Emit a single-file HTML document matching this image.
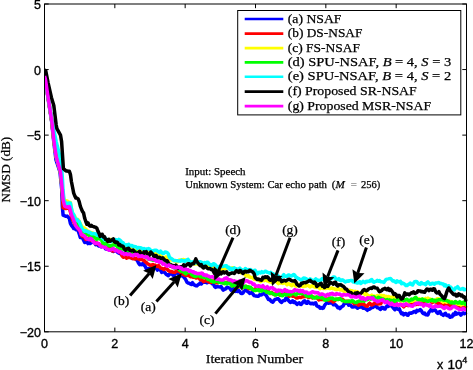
<!DOCTYPE html>
<html><head><meta charset="utf-8"><title>NMSD</title>
<style>html,body{margin:0;padding:0;background:#fff;}body{width:473px;height:370px;overflow:hidden;position:relative;font-family:"Liberation Sans",sans-serif;}</style>
</head><body>
<svg width="473" height="370" viewBox="0 0 473 370" style="position:absolute;left:0;top:0;will-change:transform">
<rect x="0" y="0" width="473" height="370" fill="#fff"/>
<defs><clipPath id="cp"><rect x="44.5" y="4.0" width="423.0" height="327.8"/></clipPath></defs>
<g clip-path="url(#cp)">
<polyline points="44.5,76.0 45.2,79.0 48.0,98.0 51.7,122.0 53.8,142.0 56.0,160.0 60.0,172.0 61.8,190.0 62.3,206.2 63.1,215.1 66.0,216.3 67.1,216.1 68.2,217.2 69.3,218.3 70.4,223.4 71.5,225.5 72.6,226.7 73.7,228.6 74.8,228.3 75.9,229.8 77.0,229.8 78.1,230.7 79.2,233.8 80.3,237.5 81.4,237.2 82.5,237.9 83.6,240.1 84.7,242.4 85.8,242.3 86.9,241.8 88.0,243.6 89.1,241.7 90.2,243.5 91.3,242.7 92.4,242.0 93.5,241.7 94.6,242.4 95.7,244.7 96.8,244.0 97.9,245.1 99.0,246.1 100.1,246.0 101.2,246.9 102.3,246.1 103.4,246.0 104.5,246.7 105.6,248.9 106.7,249.2 107.8,249.0 108.9,249.8 110.0,249.9 111.1,249.5 112.2,251.0 113.3,251.5 114.4,250.4 115.5,251.0 116.6,251.2 117.7,252.4 118.8,253.1 119.9,252.3 121.0,254.3 122.1,252.9 123.2,253.3 124.3,254.8 125.4,253.8 126.5,254.6 127.6,253.7 128.7,255.5 129.8,256.8 130.9,257.1 132.0,258.4 133.1,257.4 134.2,258.3 135.3,258.6 136.4,259.8 137.5,260.8 138.6,263.2 139.7,264.6 140.8,264.1 141.9,264.7 143.0,263.4 144.1,265.0 145.2,266.3 146.3,268.7 147.4,269.9 148.5,268.5 149.6,268.3 150.7,269.3 151.8,267.8 152.9,268.7 154.0,268.3 155.1,268.0 156.2,267.8 157.3,270.1 158.4,269.4 159.5,269.5 160.6,270.3 161.7,272.4 162.8,271.2 163.9,271.9 165.0,272.8 166.1,274.3 167.2,275.0 168.3,275.6 169.4,274.1 170.5,273.8 171.6,273.4 172.7,274.9 173.8,275.8 174.9,273.8 176.0,272.8 177.1,273.1 178.2,273.5 179.3,274.7 180.4,276.0 181.5,275.8 182.6,275.5 183.7,277.1 184.8,278.2 185.9,279.9 187.0,282.3 188.1,283.0 189.2,283.2 190.3,283.9 191.4,284.5 192.5,282.7 193.6,284.5 194.7,285.1 195.8,285.7 196.9,285.9 198.0,284.7 199.1,284.1 200.2,282.9 201.3,284.0 202.4,282.7 203.5,282.1 204.6,282.2 205.7,282.1 206.8,282.8 207.9,282.3 209.0,282.0 210.1,282.4 211.2,282.5 212.3,283.7 213.4,283.6 214.5,286.5 215.6,287.4 216.7,286.6 217.8,286.7 218.9,286.9 220.0,287.1 221.1,286.5 222.2,288.6 223.3,290.1 224.4,289.3 225.5,289.0 226.6,287.6 227.7,287.2 228.8,287.9 229.9,288.1 231.0,290.1 232.1,289.2 233.2,288.4 234.3,291.2 235.4,291.4 236.5,290.4 237.6,291.4 238.7,290.4 239.8,291.7 240.9,293.3 242.0,293.6 243.1,292.9 244.2,291.1 245.3,290.3 246.4,289.5 247.5,291.5 248.6,292.1 249.7,293.4 250.8,292.9 251.9,292.6 253.0,294.2 254.1,295.6 255.2,295.9 256.3,296.0 257.4,296.2 258.5,296.2 259.6,294.7 260.7,295.0 261.8,294.8 262.9,293.8 264.0,293.5 265.1,294.5 266.2,295.3 267.3,297.3 268.4,299.4 269.5,299.2 270.6,300.6 271.7,301.6 272.8,302.1 273.9,300.6 275.0,299.5 276.1,299.1 277.2,298.8 278.3,298.8 279.4,300.2 280.5,301.8 281.6,302.4 282.7,301.0 283.8,300.6 284.9,300.5 286.0,298.0 287.1,298.2 288.2,300.1 289.3,301.5 290.4,302.5 291.5,301.9 292.6,300.8 293.7,302.4 294.8,301.8 295.9,303.2 297.0,304.4 298.1,303.3 299.2,302.8 300.3,304.3 301.4,304.4 302.5,302.7 303.6,301.4 304.7,300.8 305.8,302.8 306.9,303.3 308.0,301.4 309.1,302.5 310.2,303.5 311.3,303.7 312.4,303.2 313.5,303.9 314.6,303.2 315.7,302.8 316.8,305.8 317.9,306.5 319.0,306.6 320.1,308.2 321.2,307.6 322.3,308.4 323.4,308.0 324.5,305.5 325.6,304.0 326.7,303.1 327.8,302.1 328.9,303.2 330.0,302.8 331.1,303.1 332.2,302.5 333.3,304.7 334.4,304.4 335.5,304.9 336.6,305.8 337.7,307.6 338.8,307.2 339.9,308.6 341.0,307.3 342.1,306.4 343.2,305.7 344.3,303.4 345.4,303.4 346.5,303.1 347.6,302.7 348.7,305.2 349.8,304.7 350.9,305.6 352.0,306.9 353.1,307.0 354.2,306.4 355.3,306.8 356.4,307.2 357.5,308.2 358.6,306.6 359.7,307.3 360.8,306.7 361.9,306.6 363.0,308.2 364.1,308.2 365.2,308.4 366.3,309.3 367.4,310.3 368.5,309.3 369.6,309.2 370.7,308.3 371.8,307.6 372.9,307.5 374.0,306.5 375.1,305.9 376.2,306.0 377.3,307.7 378.4,307.9 379.5,308.7 380.6,309.4 381.7,307.5 382.8,307.5 383.9,308.8 385.0,309.1 386.1,307.0 387.2,305.9 388.3,306.4 389.4,305.6 390.5,305.8 391.6,305.4 392.7,307.2 393.8,308.6 394.9,309.7 396.0,307.9 397.1,308.9 398.2,309.3 399.3,308.8 400.4,311.5 401.5,313.7 402.6,313.0 403.7,314.8 404.8,313.7 405.9,313.5 407.0,315.0 408.1,315.2 409.2,313.2 410.3,313.0 411.4,313.2 412.5,312.7 413.6,311.7 414.7,311.4 415.8,312.3 416.9,310.4 418.0,310.9 419.1,310.6 420.2,309.5 421.3,310.7 422.4,312.6 423.5,313.6 424.6,313.0 425.7,314.7 426.8,314.7 427.9,315.0 429.0,312.1 430.1,310.9 431.2,309.3 432.3,310.9 433.4,310.4 434.5,309.8 435.6,310.5 436.7,312.5 437.8,313.4 438.9,312.1 440.0,311.5 441.1,314.0 442.2,314.4 443.3,315.3 444.4,314.0 445.5,313.4 446.6,315.4 447.7,315.7 448.8,315.0 449.9,317.3 451.0,316.8 452.1,316.7 453.2,314.1 454.3,314.9 455.4,312.4 456.5,314.1 457.6,313.7 458.7,313.2 459.8,313.7 460.9,315.2 462.0,313.9 463.1,312.9 464.2,313.7 465.3,313.3 466.3,314.5" fill="none" stroke="#0000ff" stroke-width="3.5" stroke-linejoin="round" stroke-linecap="butt"/>
<polyline points="44.5,76.0 45.4,79.0 48.1,97.4 51.9,122.0 54.0,141.6 56.2,156.8 60.5,171.9 62.3,190.0 62.6,200.0 63.1,207.8 66.0,208.6 67.1,208.4 68.2,208.0 69.3,208.0 70.4,211.8 71.5,216.1 72.6,219.8 73.7,221.7 74.8,224.2 75.9,225.3 77.0,227.1 78.1,228.1 79.2,230.0 80.3,231.4 81.4,234.9 82.5,236.4 83.6,236.4 84.7,237.4 85.8,239.4 86.9,238.1 88.0,239.1 89.1,238.7 90.2,238.8 91.3,240.4 92.4,240.6 93.5,241.3 94.6,242.3 95.7,243.6 96.8,242.9 97.9,243.9 99.0,244.4 100.1,245.0 101.2,245.1 102.3,245.4 103.4,245.2 104.5,245.4 105.6,245.7 106.7,247.7 107.8,247.8 108.9,247.9 110.0,248.0 111.1,249.8 112.2,250.9 113.3,251.1 114.4,250.3 115.5,249.9 116.6,250.0 117.7,250.5 118.8,250.9 119.9,252.4 121.0,253.2 122.1,255.9 123.2,257.2 124.3,257.0 125.4,256.4 126.5,258.1 127.6,257.5 128.7,257.6 129.8,257.0 130.9,257.6 132.0,258.2 133.1,258.7 134.2,258.4 135.3,259.0 136.4,258.3 137.5,258.7 138.6,258.7 139.7,259.6 140.8,259.3 141.9,259.3 143.0,260.1 144.1,260.5 145.2,261.8 146.3,262.5 147.4,263.6 148.5,264.2 149.6,264.8 150.7,265.6 151.8,265.0 152.9,264.6 154.0,266.2 155.1,265.1 156.2,266.0 157.3,266.5 158.4,265.4 159.5,266.9 160.6,268.1 161.7,268.2 162.8,268.8 163.9,269.5 165.0,268.4 166.1,268.9 167.2,269.3 168.3,270.5 169.4,271.1 170.5,271.7 171.6,271.5 172.7,272.2 173.8,272.2 174.9,272.4 176.0,271.5 177.1,270.8 178.2,270.9 179.3,271.7 180.4,271.6 181.5,273.6 182.6,274.0 183.7,274.6 184.8,275.1 185.9,275.6 187.0,275.5 188.1,274.4 189.2,275.9 190.3,276.7 191.4,276.6 192.5,276.8 193.6,277.3 194.7,276.5 195.8,278.0 196.9,277.9 198.0,277.7 199.1,278.3 200.2,279.8 201.3,279.3 202.4,280.4 203.5,281.6 204.6,281.1 205.7,280.7 206.8,280.8 207.9,281.4 209.0,282.1 210.1,282.2 211.2,282.4 212.3,281.3 213.4,281.0 214.5,281.3 215.6,282.7 216.7,282.5 217.8,282.9 218.9,281.7 220.0,281.2 221.1,281.4 222.2,282.5 223.3,283.1 224.4,283.3 225.5,282.4 226.6,282.5 227.7,282.4 228.8,282.4 229.9,281.8 231.0,283.6 232.1,283.0 233.2,284.8 234.3,285.8 235.4,284.2 236.5,284.6 237.6,285.9 238.7,287.0 239.8,286.5 240.9,285.9 242.0,285.6 243.1,287.3 244.2,286.5 245.3,287.1 246.4,286.4 247.5,287.1 248.6,288.6 249.7,287.5 250.8,288.7 251.9,288.7 253.0,289.7 254.1,289.8 255.2,288.9 256.3,290.1 257.4,289.9 258.5,288.8 259.6,288.3 260.7,289.3 261.8,289.9 262.9,290.0 264.0,289.8 265.1,290.3 266.2,290.6 267.3,292.2 268.4,291.1 269.5,292.5 270.6,293.4 271.7,292.3 272.8,293.7 273.9,294.0 275.0,294.7 276.1,293.6 277.2,293.4 278.3,293.4 279.4,294.9 280.5,294.8 281.6,294.2 282.7,294.2 283.8,293.9 284.9,293.2 286.0,293.1 287.1,294.9 288.2,294.5 289.3,296.2 290.4,295.6 291.5,295.5 292.6,296.2 293.7,295.9 294.8,296.4 295.9,297.7 297.0,298.0 298.1,297.8 299.2,297.2 300.3,297.4 301.4,297.4 302.5,296.6 303.6,296.8 304.7,295.4 305.8,296.5 306.9,296.4 308.0,297.2 309.1,297.5 310.2,296.9 311.3,296.1 312.4,297.9 313.5,297.0 314.6,297.5 315.7,297.6 316.8,297.6 317.9,298.8 319.0,300.0 320.1,299.1 321.2,299.6 322.3,299.2 323.4,299.6 324.5,299.6 325.6,299.1 326.7,299.0 327.8,299.1 328.9,300.8 330.0,300.6 331.1,299.9 332.2,301.2 333.3,302.0 334.4,301.1 335.5,300.0 336.6,299.5 337.7,299.0 338.8,299.4 339.9,299.0 341.0,299.1 342.1,299.2 343.2,300.0 344.3,301.2 345.4,301.6 346.5,301.2 347.6,301.2 348.7,301.7 349.8,301.7 350.9,301.8 352.0,301.4 353.1,301.8 354.2,303.8 355.3,302.9 356.4,303.5 357.5,304.2 358.6,305.2 359.7,304.3 360.8,304.1 361.9,304.1 363.0,304.2 364.1,304.4 365.2,305.6 366.3,306.0 367.4,306.2 368.5,304.2 369.6,303.2 370.7,304.2 371.8,305.0 372.9,304.3 374.0,304.1 375.1,302.5 376.2,302.6 377.3,303.8 378.4,303.9 379.5,303.8 380.6,303.8 381.7,301.8 382.8,300.2 383.9,299.3 385.0,300.1 386.1,301.1 387.2,302.2 388.3,302.4 389.4,302.4 390.5,302.8 391.6,302.4 392.7,302.6 393.8,301.7 394.9,303.3 396.0,303.0 397.1,304.7 398.2,305.1 399.3,304.7 400.4,304.2 401.5,304.5 402.6,305.8 403.7,306.8 404.8,305.5 405.9,304.6 407.0,305.2 408.1,305.5 409.2,305.1 410.3,304.5 411.4,304.9 412.5,303.6 413.6,303.4 414.7,303.5 415.8,304.6 416.9,304.2 418.0,304.4 419.1,303.4 420.2,302.1 421.3,301.4 422.4,302.7 423.5,302.6 424.6,301.4 425.7,300.1 426.8,300.4 427.9,300.9 429.0,300.4 430.1,300.2 431.2,301.4 432.3,302.7 433.4,301.9 434.5,301.3 435.6,301.9 436.7,302.5 437.8,303.5 438.9,302.9 440.0,304.2 441.1,304.8 442.2,304.6 443.3,303.9 444.4,305.6 445.5,304.9 446.6,305.8 447.7,304.9 448.8,304.5 449.9,305.7 451.0,305.2 452.1,306.6 453.2,306.2 454.3,305.4 455.4,305.1 456.5,305.6 457.6,306.5 458.7,307.8 459.8,306.6 460.9,306.6 462.0,306.3 463.1,308.1 464.2,307.1 465.3,306.5 466.3,308.0" fill="none" stroke="#ff0000" stroke-width="3.5" stroke-linejoin="round" stroke-linecap="butt"/>
<polyline points="44.5,76.0 45.4,79.0 48.1,97.4 51.9,122.0 54.0,141.6 56.2,156.8 60.5,171.9 62.3,190.0 63.0,195.0 64.0,200.0 66.0,200.7 67.1,200.9 68.2,201.8 69.3,202.4 70.4,202.5 71.5,208.9 72.6,213.9 73.7,215.0 74.8,216.4 75.9,219.3 77.0,220.4 78.1,219.7 79.2,221.5 80.3,223.6 81.4,225.8 82.5,227.3 83.6,227.8 84.7,228.1 85.8,229.4 86.9,230.2 88.0,232.1 89.1,231.5 90.2,233.2 91.3,232.6 92.4,232.9 93.5,234.6 94.6,235.8 95.7,235.8 96.8,235.4 97.9,236.3 99.0,236.6 100.1,238.1 101.2,237.5 102.3,237.8 103.4,239.2 104.5,238.3 105.6,238.8 106.7,240.1 107.8,240.9 108.9,239.8 110.0,239.5 111.1,239.6 112.2,241.7 113.3,241.5 114.4,242.7 115.5,243.8 116.6,243.5 117.7,243.4 118.8,245.2 119.9,245.6 121.0,245.3 122.1,246.4 123.2,246.4 124.3,246.4 125.4,246.0 126.5,247.6 127.6,249.0 128.7,249.3 129.8,250.3 130.9,248.8 132.0,248.6 133.1,249.2 134.2,250.6 135.3,251.5 136.4,250.7 137.5,250.2 138.6,250.4 139.7,250.8 140.8,251.9 141.9,250.9 143.0,251.8 144.1,252.2 145.2,252.6 146.3,252.8 147.4,252.6 148.5,251.9 149.6,251.6 150.7,251.8 151.8,253.0 152.9,252.3 154.0,252.4 155.1,253.9 156.2,253.7 157.3,253.4 158.4,253.4 159.5,254.7 160.6,255.0 161.7,256.7 162.8,257.5 163.9,258.3 165.0,257.3 166.1,256.9 167.2,257.1 168.3,258.3 169.4,259.8 170.5,260.0 171.6,259.7 172.7,260.0 173.8,260.7 174.9,261.2 176.0,261.7 177.1,261.9 178.2,261.5 179.3,260.0 180.4,260.7 181.5,259.7 182.6,259.7 183.7,259.4 184.8,260.6 185.9,260.2 187.0,260.4 188.1,260.7 189.2,260.9 190.3,262.8 191.4,263.0 192.5,262.6 193.6,262.7 194.7,264.1 195.8,263.8 196.9,263.2 198.0,264.2 199.1,264.5 200.2,265.4 201.3,264.2 202.4,264.6 203.5,265.7 204.6,266.4 205.7,267.2 206.8,265.8 207.9,265.8 209.0,265.6 210.1,265.8 211.2,267.7 212.3,268.0 213.4,269.0 214.5,268.4 215.6,269.4 216.7,269.0 217.8,268.6 218.9,269.7 220.0,270.7 221.1,269.1 222.2,269.4 223.3,269.5 224.4,268.7 225.5,268.5 226.6,267.9 227.7,267.7 228.8,267.6 229.9,268.3 231.0,268.7 232.1,268.0 233.2,267.7 234.3,268.4 235.4,269.8 236.5,269.7 237.6,270.2 238.7,270.4 239.8,272.0 240.9,272.7 242.0,272.3 243.1,272.6 244.2,273.7 245.3,274.9 246.4,276.0 247.5,275.7 248.6,275.7 249.7,277.1 250.8,277.4 251.9,277.4 253.0,277.7 254.1,279.4 255.2,279.0 256.3,279.6 257.4,279.6 258.5,279.7 259.6,280.8 260.7,281.6 261.8,280.7 262.9,279.9 264.0,280.7 265.1,280.0 266.2,279.3 267.3,281.0 268.4,280.9 269.5,281.8 270.6,281.5 271.7,282.4 272.8,282.0 273.9,281.3 275.0,280.7 276.1,281.7 277.2,282.5 278.3,283.6 279.4,282.4 280.5,283.1 281.6,283.1 282.7,283.4 283.8,282.8 284.9,282.9 286.0,283.5 287.1,284.7 288.2,283.6 289.3,284.0 290.4,284.9 291.5,285.7 292.6,284.5 293.7,283.8 294.8,285.3 295.9,286.2 297.0,285.6 298.1,284.3 299.2,285.7 300.3,285.2 301.4,286.2 302.5,286.0 303.6,286.5 304.7,285.3 305.8,286.1 306.9,285.3 308.0,285.3 309.1,286.3 310.2,286.9 311.3,286.0 312.4,285.8 313.5,286.3 314.6,287.0 315.7,287.2 316.8,286.7 317.9,286.7 319.0,287.8 320.1,288.7 321.2,287.3 322.3,287.8 323.4,288.5 324.5,287.3 325.6,288.5 326.7,287.5 327.8,288.1 328.9,288.3 330.0,288.6 331.1,288.1 332.2,288.1 333.3,288.7 334.4,288.7 335.5,289.4 336.6,289.3 337.7,289.4 338.8,288.6 339.9,289.7 341.0,290.0 342.1,289.7 343.2,290.8 344.3,291.4 345.4,291.2 346.5,290.5 347.6,290.9 348.7,290.4 349.8,290.3 350.9,291.0 352.0,290.7 353.1,291.4 354.2,292.0 355.3,291.3 356.4,292.4 357.5,291.7 358.6,292.9 359.7,293.7 360.8,293.5 361.9,292.5 363.0,293.1 364.1,293.3 365.2,294.7 366.3,293.7 367.4,295.0 368.5,296.0 369.6,296.0 370.7,296.3 371.8,295.2 372.9,296.4 374.0,295.9 375.1,296.6 376.2,296.9 377.3,295.5 378.4,296.1 379.5,296.8 380.6,295.3 381.7,295.3 382.8,296.3 383.9,295.6 385.0,296.9 386.1,296.3 387.2,297.3 388.3,296.4 389.4,296.8 390.5,298.0 391.6,297.1 392.7,296.9 393.8,297.4 394.9,297.3 396.0,296.7 397.1,297.0 398.2,297.2 399.3,299.2 400.4,299.8 401.5,300.7 402.6,299.7 403.7,300.8 404.8,300.0 405.9,300.6 407.0,301.4 408.1,301.1 409.2,301.7 410.3,301.2 411.4,300.9 412.5,301.2 413.6,299.5 414.7,300.5 415.8,300.1 416.9,299.2 418.0,299.7 419.1,298.8 420.2,300.0 421.3,299.7 422.4,299.0 423.5,299.6 424.6,299.2 425.7,298.4 426.8,299.2 427.9,298.2 429.0,299.5 430.1,298.9 431.2,299.6 432.3,300.7 433.4,300.5 434.5,300.6 435.6,299.9 436.7,299.0 437.8,298.8 438.9,299.0 440.0,300.3 441.1,300.6 442.2,301.1 443.3,302.2 444.4,301.3 445.5,301.1 446.6,302.1 447.7,301.3 448.8,300.9 449.9,301.6 451.0,301.6 452.1,302.2 453.2,302.3 454.3,303.3 455.4,303.9 456.5,303.4 457.6,304.1 458.7,304.2 459.8,303.5 460.9,305.0 462.0,304.3 463.1,303.8 464.2,303.4 465.3,304.5 466.3,305.0" fill="none" stroke="#ffff00" stroke-width="3.5" stroke-linejoin="round" stroke-linecap="butt"/>
<polyline points="44.5,76.0 45.4,79.0 48.1,97.4 51.9,122.0 54.0,141.6 56.2,156.8 60.5,171.9 62.3,190.0 63.1,199.7 64.7,205.5 66.0,206.1 67.1,206.5 68.2,206.1 69.3,205.6 70.4,207.6 71.5,212.7 72.6,215.3 73.7,217.3 74.8,220.2 75.9,221.6 77.0,224.1 78.1,225.5 79.2,225.8 80.3,228.4 81.4,228.4 82.5,230.3 83.6,231.8 84.7,232.4 85.8,232.3 86.9,234.3 88.0,233.7 89.1,234.9 90.2,236.8 91.3,236.0 92.4,235.9 93.5,237.0 94.6,237.5 95.7,238.3 96.8,239.4 97.9,238.6 99.0,238.7 100.1,239.1 101.2,239.3 102.3,241.9 103.4,243.4 104.5,244.4 105.6,243.2 106.7,244.7 107.8,245.5 108.9,245.3 110.0,246.0 111.1,245.8 112.2,245.3 113.3,244.9 114.4,245.1 115.5,245.0 116.6,245.8 117.7,247.3 118.8,248.1 119.9,249.0 121.0,249.3 122.1,248.6 123.2,249.1 124.3,249.2 125.4,250.3 126.5,250.4 127.6,250.0 128.7,250.8 129.8,252.1 130.9,251.1 132.0,252.4 133.1,251.0 134.2,251.1 135.3,251.3 136.4,252.8 137.5,254.2 138.6,254.6 139.7,253.9 140.8,255.1 141.9,254.6 143.0,254.4 144.1,256.1 145.2,256.6 146.3,257.3 147.4,257.8 148.5,259.0 149.6,258.7 150.7,259.6 151.8,259.7 152.9,260.3 154.0,259.8 155.1,260.3 156.2,260.3 157.3,259.9 158.4,259.5 159.5,260.6 160.6,260.4 161.7,262.6 162.8,262.2 163.9,262.1 165.0,262.6 166.1,264.9 167.2,264.8 168.3,264.4 169.4,264.2 170.5,264.2 171.6,266.0 172.7,266.8 173.8,267.6 174.9,268.2 176.0,267.1 177.1,267.9 178.2,268.2 179.3,269.6 180.4,270.6 181.5,271.5 182.6,270.3 183.7,271.8 184.8,273.0 185.9,273.8 187.0,272.4 188.1,272.2 189.2,272.1 190.3,272.0 191.4,274.2 192.5,275.4 193.6,275.7 194.7,276.4 195.8,276.5 196.9,275.9 198.0,275.3 199.1,275.2 200.2,276.9 201.3,276.6 202.4,276.9 203.5,277.5 204.6,277.0 205.7,277.5 206.8,278.1 207.9,279.5 209.0,279.6 210.1,279.6 211.2,281.3 212.3,281.2 213.4,282.1 214.5,282.1 215.6,280.8 216.7,281.1 217.8,281.4 218.9,282.4 220.0,282.0 221.1,282.8 222.2,282.8 223.3,282.2 224.4,283.6 225.5,282.6 226.6,284.0 227.7,283.3 228.8,282.6 229.9,282.9 231.0,284.6 232.1,286.1 233.2,284.6 234.3,285.1 235.4,285.4 236.5,286.4 237.6,285.6 238.7,286.0 239.8,286.0 240.9,287.1 242.0,286.3 243.1,287.6 244.2,286.7 245.3,286.1 246.4,287.1 247.5,287.4 248.6,286.8 249.7,288.0 250.8,287.4 251.9,289.0 253.0,289.7 254.1,290.5 255.2,290.6 256.3,290.0 257.4,289.8 258.5,289.8 259.6,291.0 260.7,289.7 261.8,291.1 262.9,289.9 264.0,289.9 265.1,290.2 266.2,292.1 267.3,292.2 268.4,292.1 269.5,293.4 270.6,292.7 271.7,293.0 272.8,293.5 273.9,294.3 275.0,294.8 276.1,294.9 277.2,294.3 278.3,294.1 279.4,293.6 280.5,295.2 281.6,295.5 282.7,295.7 283.8,294.4 284.9,294.3 286.0,295.0 287.1,294.8 288.2,293.6 289.3,293.8 290.4,294.9 291.5,293.9 292.6,293.3 293.7,293.3 294.8,294.2 295.9,295.0 297.0,293.8 298.1,293.2 299.2,293.1 300.3,293.2 301.4,293.8 302.5,293.3 303.6,293.6 304.7,293.6 305.8,295.6 306.9,296.1 308.0,295.0 309.1,296.6 310.2,295.5 311.3,295.7 312.4,297.4 313.5,297.9 314.6,298.1 315.7,297.6 316.8,296.9 317.9,297.8 319.0,297.2 320.1,297.2 321.2,297.9 322.3,297.5 323.4,298.4 324.5,299.9 325.6,300.2 326.7,299.7 327.8,299.7 328.9,299.1 330.0,298.0 331.1,298.4 332.2,298.0 333.3,298.8 334.4,299.7 335.5,299.0 336.6,299.1 337.7,299.6 338.8,299.1 339.9,298.4 341.0,299.5 342.1,300.5 343.2,300.9 344.3,301.1 345.4,301.6 346.5,301.6 347.6,301.6 348.7,301.3 349.8,301.0 350.9,301.6 352.0,300.6 353.1,301.0 354.2,302.1 355.3,302.5 356.4,302.6 357.5,301.7 358.6,301.3 359.7,301.0 360.8,301.1 361.9,300.5 363.0,300.7 364.1,301.2 365.2,299.5 366.3,299.6 367.4,299.8 368.5,298.8 369.6,298.4 370.7,299.2 371.8,297.1 372.9,297.5 374.0,296.8 375.1,298.0 376.2,299.0 377.3,298.5 378.4,297.3 379.5,297.8 380.6,298.2 381.7,298.9 382.8,298.9 383.9,299.3 385.0,300.1 386.1,299.9 387.2,299.6 388.3,300.9 389.4,299.9 390.5,300.6 391.6,300.4 392.7,301.1 393.8,300.0 394.9,301.5 396.0,300.8 397.1,299.8 398.2,299.8 399.3,300.2 400.4,299.4 401.5,299.9 402.6,300.0 403.7,300.7 404.8,300.2 405.9,299.6 407.0,299.2 408.1,300.2 409.2,301.0 410.3,300.3 411.4,299.1 412.5,299.7 413.6,298.9 414.7,298.0 415.8,297.3 416.9,298.8 418.0,299.7 419.1,299.8 420.2,299.6 421.3,299.8 422.4,299.1 423.5,300.6 424.6,300.0 425.7,300.4 426.8,301.1 427.9,301.5 429.0,300.9 430.1,300.3 431.2,300.5 432.3,299.6 433.4,300.9 434.5,300.3 435.6,301.3 436.7,300.3 437.8,300.1 438.9,299.7 440.0,299.9 441.1,299.5 442.2,298.8 443.3,300.2 444.4,300.2 445.5,300.2 446.6,300.4 447.7,301.1 448.8,301.5 449.9,302.3 451.0,302.8 452.1,302.1 453.2,303.1 454.3,303.3 455.4,301.5 456.5,302.3 457.6,302.9 458.7,302.9 459.8,301.7 460.9,303.1 462.0,303.4 463.1,302.4 464.2,302.0 465.3,304.3 466.3,304.4" fill="none" stroke="#00ff00" stroke-width="3.5" stroke-linejoin="round" stroke-linecap="butt"/>
<polyline points="44.5,76.0 45.4,79.0 48.1,97.0 52.0,121.0 56.2,141.6 59.5,154.6 61.6,167.6 62.5,180.0 63.0,190.0 64.0,200.0 66.0,203.4 67.1,203.7 68.2,203.2 69.3,203.0 70.4,203.1 71.5,209.0 72.6,213.1 73.7,214.6 74.8,217.9 75.9,220.1 77.0,219.3 78.1,221.1 79.2,221.5 80.3,224.5 81.4,227.2 82.5,229.4 83.6,230.2 84.7,231.3 85.8,230.5 86.9,231.4 88.0,231.7 89.1,232.6 90.2,232.4 91.3,233.7 92.4,233.8 93.5,233.5 94.6,233.7 95.7,233.9 96.8,235.2 97.9,235.0 99.0,236.0 100.1,235.9 101.2,237.0 102.3,237.8 103.4,238.5 104.5,239.8 105.6,238.4 106.7,240.0 107.8,240.0 108.9,240.4 110.0,241.0 111.1,241.6 112.2,240.6 113.3,240.2 114.4,241.3 115.5,239.5 116.6,240.1 117.7,240.6 118.8,239.3 119.9,240.2 121.0,241.1 122.1,243.0 123.2,242.8 124.3,244.8 125.4,244.9 126.5,244.8 127.6,245.9 128.7,244.3 129.8,245.4 130.9,245.8 132.0,245.4 133.1,246.7 134.2,246.4 135.3,246.7 136.4,247.2 137.5,248.3 138.6,247.5 139.7,247.7 140.8,247.8 141.9,248.3 143.0,249.3 144.1,248.5 145.2,249.6 146.3,249.1 147.4,249.1 148.5,248.6 149.6,249.1 150.7,250.6 151.8,250.7 152.9,251.3 154.0,250.5 155.1,250.2 156.2,250.2 157.3,251.0 158.4,251.7 159.5,252.6 160.6,251.2 161.7,252.5 162.8,253.6 163.9,253.3 165.0,252.0 166.1,252.2 167.2,252.6 168.3,253.9 169.4,257.1 170.5,258.1 171.6,258.7 172.7,259.6 173.8,260.6 174.9,260.5 176.0,260.7 177.1,260.7 178.2,261.0 179.3,260.9 180.4,261.2 181.5,260.1 182.6,260.9 183.7,260.7 184.8,261.5 185.9,260.3 187.0,259.9 188.1,259.4 189.2,261.1 190.3,262.4 191.4,262.5 192.5,261.8 193.6,262.7 194.7,263.1 195.8,262.8 196.9,261.9 198.0,261.7 199.1,261.9 200.2,261.8 201.3,262.1 202.4,262.9 203.5,264.1 204.6,262.6 205.7,263.3 206.8,262.3 207.9,262.2 209.0,264.0 210.1,264.4 211.2,265.6 212.3,265.0 213.4,263.7 214.5,264.2 215.6,265.0 216.7,266.4 217.8,267.3 218.9,266.6 220.0,266.2 221.1,265.4 222.2,266.6 223.3,266.2 224.4,266.1 225.5,265.8 226.6,265.8 227.7,267.6 228.8,267.2 229.9,269.4 231.0,268.3 232.1,269.9 233.2,268.7 234.3,267.9 235.4,269.3 236.5,268.7 237.6,269.8 238.7,268.9 239.8,268.1 240.9,269.4 242.0,269.9 243.1,270.4 244.2,270.2 245.3,268.6 246.4,269.3 247.5,269.9 248.6,269.6 249.7,270.8 250.8,269.7 251.9,271.1 253.0,271.7 254.1,270.5 255.2,270.3 256.3,272.2 257.4,273.9 258.5,272.5 259.6,272.2 260.7,272.9 261.8,271.7 262.9,272.7 264.0,272.3 265.1,271.2 266.2,271.5 267.3,272.3 268.4,272.4 269.5,273.1 270.6,272.4 271.7,273.9 272.8,273.6 273.9,274.4 275.0,275.0 276.1,274.9 277.2,274.9 278.3,276.1 279.4,277.3 280.5,277.7 281.6,277.4 282.7,276.1 283.8,274.7 284.9,276.3 286.0,276.2 287.1,276.4 288.2,275.1 289.3,275.1 290.4,276.0 291.5,276.0 292.6,275.3 293.7,274.6 294.8,275.3 295.9,277.3 297.0,277.5 298.1,278.5 299.2,278.7 300.3,279.7 301.4,280.1 302.5,279.0 303.6,277.9 304.7,278.1 305.8,278.6 306.9,279.2 308.0,280.1 309.1,280.8 310.2,278.9 311.3,279.9 312.4,280.4 313.5,280.7 314.6,280.0 315.7,278.9 316.8,279.9 317.9,280.3 319.0,280.3 320.1,280.9 321.2,279.7 322.3,278.5 323.4,279.1 324.5,280.1 325.6,278.9 326.7,279.5 327.8,280.2 328.9,278.6 330.0,278.7 331.1,278.8 332.2,278.1 333.3,277.0 334.4,276.9 335.5,278.4 336.6,279.5 337.7,279.4 338.8,278.6 339.9,280.2 341.0,280.8 342.1,279.8 343.2,280.2 344.3,281.3 345.4,281.9 346.5,281.3 347.6,281.0 348.7,281.3 349.8,280.6 350.9,280.4 352.0,280.4 353.1,281.9 354.2,281.9 355.3,282.6 356.4,282.6 357.5,283.1 358.6,282.5 359.7,281.6 360.8,283.5 361.9,282.6 363.0,281.4 364.1,282.0 365.2,282.6 366.3,281.3 367.4,281.7 368.5,281.2 369.6,281.4 370.7,280.1 371.8,279.5 372.9,281.6 374.0,282.2 375.1,281.5 376.2,281.3 377.3,280.4 378.4,281.2 379.5,280.6 380.6,281.7 381.7,281.8 382.8,281.9 383.9,282.4 385.0,280.8 386.1,279.4 387.2,279.1 388.3,278.9 389.4,278.6 390.5,278.4 391.6,279.6 392.7,281.0 393.8,280.7 394.9,281.8 396.0,282.4 397.1,280.9 398.2,281.7 399.3,281.9 400.4,281.4 401.5,283.6 402.6,283.0 403.7,283.6 404.8,284.2 405.9,285.5 407.0,285.6 408.1,284.7 409.2,284.2 410.3,283.0 411.4,284.4 412.5,285.0 413.6,283.2 414.7,281.6 415.8,281.4 416.9,281.7 418.0,283.3 419.1,284.1 420.2,284.4 421.3,282.5 422.4,283.5 423.5,283.8 424.6,283.8 425.7,284.7 426.8,282.7 427.9,281.9 429.0,283.1 430.1,284.2 431.2,284.1 432.3,283.2 433.4,283.5 434.5,284.2 435.6,282.9 436.7,282.9 437.8,282.8 438.9,282.5 440.0,283.6 441.1,283.5 442.2,283.9 443.3,284.0 444.4,285.7 445.5,284.9 446.6,286.5 447.7,286.1 448.8,285.7 449.9,287.9 451.0,287.3 452.1,289.1 453.2,289.7 454.3,289.9 455.4,288.0 456.5,287.8 457.6,286.7 458.7,288.3 459.8,289.1 460.9,289.2 462.0,288.8 463.1,288.5 464.2,289.7 465.3,289.6 466.3,289.5" fill="none" stroke="#00ffff" stroke-width="3.5" stroke-linejoin="round" stroke-linecap="butt"/>
<polyline points="44.5,70.0 45.7,70.5 48.1,82.8 51.4,97.4 53.8,105.5 56.2,125.0 56.9,128.6 60.5,135.1 61.6,141.6 63.4,168.6 66.0,170.9 67.1,170.9 68.2,171.2 69.3,171.2 70.4,174.3 71.5,182.0 72.6,187.5 73.7,193.2 74.8,195.9 75.9,198.1 77.0,198.1 78.1,198.9 79.2,201.7 80.3,206.1 81.4,209.0 82.5,211.5 83.6,213.1 84.7,218.3 85.8,221.5 86.9,224.3 88.0,222.8 89.1,225.3 90.2,226.1 91.3,225.4 92.4,226.4 93.5,226.6 94.6,227.0 95.7,227.3 96.8,228.2 97.9,231.1 99.0,233.3 100.1,236.5 101.2,234.4 102.3,234.3 103.4,237.0 104.5,236.7 105.6,239.6 106.7,239.4 107.8,241.5 108.9,239.4 110.0,241.2 111.1,240.6 112.2,239.7 113.3,238.9 114.4,241.8 115.5,242.4 116.6,241.9 117.7,242.7 118.8,245.0 119.9,244.5 121.0,246.0 122.1,245.9 123.2,246.5 124.3,249.0 125.4,250.1 126.5,249.1 127.6,248.4 128.7,248.3 129.8,250.2 130.9,250.8 132.0,250.4 133.1,250.1 134.2,251.5 135.3,252.6 136.4,253.6 137.5,253.5 138.6,252.3 139.7,251.3 140.8,253.3 141.9,253.3 143.0,254.4 144.1,251.8 145.2,252.6 146.3,251.7 147.4,254.1 148.5,256.0 149.6,254.9 150.7,252.0 151.8,253.2 152.9,254.2 154.0,256.7 155.1,255.9 156.2,255.5 157.3,257.8 158.4,257.7 159.5,257.2 160.6,257.8 161.7,259.0 162.8,257.9 163.9,259.2 165.0,259.9 166.1,261.0 167.2,260.7 168.3,262.9 169.4,264.8 170.5,266.2 171.6,265.1 172.7,266.0 173.8,265.6 174.9,266.8 176.0,265.2 177.1,267.0 178.2,268.2 179.3,267.2 180.4,266.8 181.5,266.7 182.6,266.6 183.7,264.8 184.8,267.0 185.9,265.5 187.0,264.5 188.1,263.7 189.2,263.7 190.3,265.9 191.4,264.4 192.5,263.5 193.6,263.7 194.7,261.4 195.8,258.9 196.9,261.3 198.0,263.1 199.1,264.3 200.2,265.7 201.3,264.6 202.4,267.0 203.5,268.0 204.6,266.5 205.7,266.3 206.8,267.7 207.9,268.7 209.0,268.7 210.1,268.4 211.2,269.6 212.3,269.5 213.4,271.3 214.5,273.3 215.6,271.6 216.7,272.1 217.8,272.9 218.9,271.3 220.0,272.8 221.1,273.8 222.2,272.4 223.3,271.8 224.4,272.9 225.5,272.3 226.6,271.8 227.7,273.8 228.8,274.6 229.9,273.7 231.0,273.3 232.1,272.9 233.2,272.9 234.3,273.5 235.4,272.0 236.5,270.7 237.6,271.5 238.7,272.4 239.8,270.5 240.9,270.9 242.0,272.7 243.1,273.5 244.2,271.6 245.3,271.3 246.4,271.9 247.5,271.4 248.6,271.7 249.7,270.3 250.8,270.9 251.9,271.7 253.0,272.2 254.1,273.8 255.2,277.8 256.3,278.6 257.4,279.6 258.5,279.1 259.6,279.6 260.7,280.1 261.8,280.2 262.9,277.3 264.0,277.8 265.1,276.7 266.2,277.5 267.3,276.9 268.4,277.9 269.5,280.0 270.6,280.2 271.7,279.1 272.8,279.3 273.9,279.1 275.0,280.8 276.1,279.4 277.2,278.7 278.3,279.6 279.4,278.4 280.5,279.6 281.6,281.6 282.7,281.2 283.8,280.3 284.9,280.6 286.0,281.0 287.1,280.0 288.2,279.5 289.3,279.3 290.4,279.8 291.5,280.7 292.6,280.9 293.7,280.9 294.8,280.6 295.9,282.1 297.0,284.4 298.1,285.2 299.2,285.9 300.3,285.4 301.4,283.2 302.5,283.5 303.6,282.5 304.7,282.5 305.8,282.7 306.9,282.2 308.0,281.4 309.1,280.7 310.2,280.3 311.3,281.6 312.4,282.0 313.5,283.1 314.6,282.0 315.7,283.4 316.8,286.5 317.9,285.4 319.0,284.8 320.1,283.7 321.2,283.3 322.3,286.2 323.4,285.7 324.5,287.5 325.6,286.7 326.7,285.6 327.8,286.3 328.9,284.6 330.0,282.6 331.1,282.8 332.2,283.1 333.3,284.1 334.4,282.5 335.5,282.2 336.6,285.0 337.7,286.0 338.8,284.7 339.9,284.9 341.0,284.8 342.1,285.8 343.2,286.2 344.3,287.4 345.4,288.9 346.5,289.2 347.6,290.6 348.7,291.8 349.8,292.7 350.9,292.5 352.0,293.8 353.1,294.5 354.2,295.3 355.3,293.1 356.4,294.6 357.5,292.5 358.6,294.1 359.7,294.3 360.8,293.1 361.9,292.3 363.0,290.4 364.1,289.5 365.2,290.2 366.3,290.8 367.4,290.2 368.5,289.0 369.6,288.5 370.7,288.0 371.8,288.5 372.9,287.1 374.0,286.9 375.1,287.9 376.2,288.1 377.3,288.3 378.4,290.2 379.5,291.7 380.6,291.2 381.7,290.5 382.8,289.3 383.9,289.0 385.0,288.3 386.1,289.3 387.2,289.8 388.3,288.4 389.4,290.4 390.5,289.4 391.6,290.6 392.7,292.3 393.8,294.4 394.9,293.6 396.0,294.5 397.1,296.9 398.2,295.6 399.3,295.5 400.4,297.7 401.5,299.0 402.6,298.4 403.7,296.1 404.8,292.9 405.9,294.6 407.0,294.1 408.1,294.0 409.2,294.8 410.3,293.8 411.4,292.8 412.5,292.9 413.6,291.9 414.7,293.3 415.8,293.0 416.9,292.5 418.0,290.8 419.1,291.0 420.2,291.1 421.3,291.8 422.4,291.5 423.5,292.1 424.6,292.3 425.7,290.5 426.8,289.1 427.9,289.2 429.0,290.6 430.1,289.2 431.2,289.2 432.3,290.2 433.4,288.7 434.5,289.0 435.6,291.7 436.7,292.9 437.8,292.8 438.9,291.7 440.0,294.2 441.1,295.1 442.2,296.4 443.3,297.9 444.4,298.7 445.5,296.3 446.6,292.4 447.7,289.7 448.8,288.0 449.9,290.4 451.0,291.7 452.1,292.8 453.2,294.1 454.3,294.7 455.4,294.2 456.5,296.1 457.6,295.9 458.7,293.9 459.8,294.3 460.9,295.8 462.0,295.1 463.1,296.9 464.2,296.7 465.3,298.5 466.3,301.5" fill="none" stroke="#000000" stroke-width="3.5" stroke-linejoin="round" stroke-linecap="butt"/>
<polyline points="44.5,76.0 45.4,79.0 48.1,97.4 51.9,122.0 54.0,141.6 56.2,156.8 60.5,171.9 62.3,190.0 63.1,199.7 64.7,206.2 66.0,206.8 67.1,207.0 68.2,207.3 69.3,206.6 70.4,210.5 71.5,215.1 72.6,217.2 73.7,220.5 74.8,223.0 75.9,226.0 77.0,227.4 78.1,228.7 79.2,229.5 80.3,231.2 81.4,234.6 82.5,235.0 83.6,235.4 84.7,236.2 85.8,237.9 86.9,239.0 88.0,239.1 89.1,239.6 90.2,238.3 91.3,238.6 92.4,241.1 93.5,241.8 94.6,243.3 95.7,243.3 96.8,243.1 97.9,243.5 99.0,243.5 100.1,245.7 101.2,246.4 102.3,246.5 103.4,247.1 104.5,247.5 105.6,247.3 106.7,249.1 107.8,249.3 108.9,250.3 110.0,249.7 111.1,249.9 112.2,249.1 113.3,248.3 114.4,250.1 115.5,250.9 116.6,250.1 117.7,251.2 118.8,252.0 119.9,251.4 121.0,252.1 122.1,253.6 123.2,253.4 124.3,254.6 125.4,253.7 126.5,253.8 127.6,254.8 128.7,254.2 129.8,254.1 130.9,255.4 132.0,255.2 133.1,255.9 134.2,255.0 135.3,254.4 136.4,254.7 137.5,254.6 138.6,256.5 139.7,255.9 140.8,256.4 141.9,255.7 143.0,256.5 144.1,256.8 145.2,257.2 146.3,256.8 147.4,256.9 148.5,258.9 149.6,259.0 150.7,258.9 151.8,259.0 152.9,259.5 154.0,259.8 155.1,259.7 156.2,261.2 157.3,261.3 158.4,261.0 159.5,262.3 160.6,261.7 161.7,262.2 162.8,264.1 163.9,263.6 165.0,264.4 166.1,265.7 167.2,266.3 168.3,265.1 169.4,265.1 170.5,266.1 171.6,266.0 172.7,267.4 173.8,266.5 174.9,267.9 176.0,267.7 177.1,267.1 178.2,267.5 179.3,267.0 180.4,268.3 181.5,268.0 182.6,269.6 183.7,269.7 184.8,269.4 185.9,269.1 187.0,269.9 188.1,269.6 189.2,271.3 190.3,270.5 191.4,271.3 192.5,271.9 193.6,271.8 194.7,273.0 195.8,272.8 196.9,273.5 198.0,273.8 199.1,273.5 200.2,273.6 201.3,273.1 202.4,273.2 203.5,275.0 204.6,274.7 205.7,275.6 206.8,275.0 207.9,276.0 209.0,276.2 210.1,276.9 211.2,276.9 212.3,276.6 213.4,277.2 214.5,277.5 215.6,277.6 216.7,279.3 217.8,279.1 218.9,278.9 220.0,279.8 221.1,279.9 222.2,280.0 223.3,279.9 224.4,278.5 225.5,278.3 226.6,277.7 227.7,279.1 228.8,280.0 229.9,279.7 231.0,279.9 232.1,280.8 233.2,281.4 234.3,280.8 235.4,282.0 236.5,281.5 237.6,282.1 238.7,281.3 239.8,280.9 240.9,282.6 242.0,283.0 243.1,283.2 244.2,281.7 245.3,280.9 246.4,280.8 247.5,281.0 248.6,281.7 249.7,282.4 250.8,282.2 251.9,282.9 253.0,284.3 254.1,284.1 255.2,285.7 256.3,286.0 257.4,286.5 258.5,285.8 259.6,286.0 260.7,286.8 261.8,286.5 262.9,285.6 264.0,287.3 265.1,288.1 266.2,287.5 267.3,286.7 268.4,288.3 269.5,288.7 270.6,287.7 271.7,287.9 272.8,287.8 273.9,289.5 275.0,289.2 276.1,290.9 277.2,291.4 278.3,290.0 279.4,290.7 280.5,290.3 281.6,291.0 282.7,291.5 283.8,290.5 284.9,289.5 286.0,291.1 287.1,290.6 288.2,291.6 289.3,291.5 290.4,291.6 291.5,291.8 292.6,291.5 293.7,290.9 294.8,289.6 295.9,290.5 297.0,290.3 298.1,290.5 299.2,291.5 300.3,290.4 301.4,291.5 302.5,290.5 303.6,291.7 304.7,292.7 305.8,291.9 306.9,292.2 308.0,293.4 309.1,293.3 310.2,293.1 311.3,292.4 312.4,291.7 313.5,292.2 314.6,292.7 315.7,292.5 316.8,292.8 317.9,292.6 319.0,294.0 320.1,294.7 321.2,294.1 322.3,294.0 323.4,294.6 324.5,294.9 325.6,296.0 326.7,295.0 327.8,294.3 328.9,295.2 330.0,293.8 331.1,294.0 332.2,293.4 333.3,294.4 334.4,294.3 335.5,294.7 336.6,293.5 337.7,294.1 338.8,294.2 339.9,294.1 341.0,295.0 342.1,295.8 343.2,294.6 344.3,294.6 345.4,294.9 346.5,294.9 347.6,294.6 348.7,295.1 349.8,295.3 350.9,296.7 352.0,296.9 353.1,296.3 354.2,296.6 355.3,297.1 356.4,297.2 357.5,296.8 358.6,296.4 359.7,296.1 360.8,298.4 361.9,299.0 363.0,297.7 364.1,298.5 365.2,299.6 366.3,299.1 367.4,297.8 368.5,298.0 369.6,298.1 370.7,297.8 371.8,298.6 372.9,297.9 374.0,299.9 375.1,300.3 376.2,300.6 377.3,301.7 378.4,301.6 379.5,300.8 380.6,300.5 381.7,300.1 382.8,299.8 383.9,301.5 385.0,302.6 386.1,302.0 387.2,301.5 388.3,302.4 389.4,303.6 390.5,304.5 391.6,303.2 392.7,304.3 393.8,305.0 394.9,305.3 396.0,304.6 397.1,304.0 398.2,305.4 399.3,304.8 400.4,304.6 401.5,304.9 402.6,304.6 403.7,305.6 404.8,304.7 405.9,303.7 407.0,304.5 408.1,305.0 409.2,305.6 410.3,305.6 411.4,306.0 412.5,306.2 413.6,305.1 414.7,304.6 415.8,303.4 416.9,303.1 418.0,303.8 419.1,303.1 420.2,304.4 421.3,303.9 422.4,304.5 423.5,306.1 424.6,305.0 425.7,304.4 426.8,305.2 427.9,304.9 429.0,306.1 430.1,304.9 431.2,306.3 432.3,307.1 433.4,307.3 434.5,306.5 435.6,305.8 436.7,306.4 437.8,306.4 438.9,306.3 440.0,306.1 441.1,306.3 442.2,307.0 443.3,307.9 444.4,308.5 445.5,307.1 446.6,307.1 447.7,307.7 448.8,308.6 449.9,308.9 451.0,308.6 452.1,307.3 453.2,306.7 454.3,306.4 455.4,307.0 456.5,307.8 457.6,308.3 458.7,309.1 459.8,309.6 460.9,309.2 462.0,309.7 463.1,308.3 464.2,309.2 465.3,309.7 466.3,309.7" fill="none" stroke="#ff00ff" stroke-width="3.5" stroke-linejoin="round" stroke-linecap="butt"/>
</g>
<g stroke="#000" stroke-width="1" fill="none">
<rect x="44.5" y="4.0" width="422.0" height="327.8"/>
<line x1="44.50" y1="331.8" x2="44.50" y2="327.6"/>
<line x1="44.50" y1="4.0" x2="44.50" y2="8.2"/>
<line x1="114.83" y1="331.8" x2="114.83" y2="327.6"/>
<line x1="114.83" y1="4.0" x2="114.83" y2="8.2"/>
<line x1="185.17" y1="331.8" x2="185.17" y2="327.6"/>
<line x1="185.17" y1="4.0" x2="185.17" y2="8.2"/>
<line x1="255.50" y1="331.8" x2="255.50" y2="327.6"/>
<line x1="255.50" y1="4.0" x2="255.50" y2="8.2"/>
<line x1="325.83" y1="331.8" x2="325.83" y2="327.6"/>
<line x1="325.83" y1="4.0" x2="325.83" y2="8.2"/>
<line x1="396.17" y1="331.8" x2="396.17" y2="327.6"/>
<line x1="396.17" y1="4.0" x2="396.17" y2="8.2"/>
<line x1="466.50" y1="331.8" x2="466.50" y2="327.6"/>
<line x1="466.50" y1="4.0" x2="466.50" y2="8.2"/>
<line x1="44.5" y1="4.00" x2="48.7" y2="4.00"/>
<line x1="466.5" y1="4.00" x2="462.3" y2="4.00"/>
<line x1="44.5" y1="69.56" x2="48.7" y2="69.56"/>
<line x1="466.5" y1="69.56" x2="462.3" y2="69.56"/>
<line x1="44.5" y1="135.12" x2="48.7" y2="135.12"/>
<line x1="466.5" y1="135.12" x2="462.3" y2="135.12"/>
<line x1="44.5" y1="200.68" x2="48.7" y2="200.68"/>
<line x1="466.5" y1="200.68" x2="462.3" y2="200.68"/>
<line x1="44.5" y1="266.24" x2="48.7" y2="266.24"/>
<line x1="466.5" y1="266.24" x2="462.3" y2="266.24"/>
<line x1="44.5" y1="331.80" x2="48.7" y2="331.80"/>
<line x1="466.5" y1="331.80" x2="462.3" y2="331.80"/>
</g>
<g font-family="Liberation Sans, sans-serif" font-size="12.5px" fill="#000" stroke="#000" stroke-width="0.35">
<text x="41" y="9.2" text-anchor="end">5</text>
<text x="41" y="74.8" text-anchor="end">0</text>
<text x="41" y="140.3" text-anchor="end">−5</text>
<text x="41" y="205.9" text-anchor="end">−10</text>
<text x="41" y="271.4" text-anchor="end">−15</text>
<text x="41" y="337.0" text-anchor="end">−20</text>
<text x="44.5" y="347.6" text-anchor="middle">0</text>
<text x="114.8" y="347.6" text-anchor="middle">2</text>
<text x="185.2" y="347.6" text-anchor="middle">4</text>
<text x="255.5" y="347.6" text-anchor="middle">6</text>
<text x="325.8" y="347.6" text-anchor="middle">8</text>
<text x="396.2" y="347.6" text-anchor="middle">10</text>
<text x="466.5" y="347.6" text-anchor="middle">12</text>
<text x="437" y="368.7">x</text>
<text x="447.4" y="368.7" textLength="15" lengthAdjust="spacingAndGlyphs">10</text>
<text x="462.3" y="362.6" font-size="9px">4</text>
</g>
<g font-family="Liberation Serif, serif" fill="#000" stroke="#000" stroke-width="0.25">
<text x="205.7" y="363.1" font-size="13.5px" textLength="97.6" lengthAdjust="spacingAndGlyphs">Iteration Number</text>
<text transform="translate(10.2,202.4) rotate(-90)" font-size="13px" textLength="65.6" lengthAdjust="spacingAndGlyphs">NMSD (dB)</text>
<text x="185.2" y="175.3" font-size="10.5px" textLength="60.4" lengthAdjust="spacingAndGlyphs">Input: Speech</text>
<text x="185.2" y="188" font-size="10.5px" textLength="141.8" lengthAdjust="spacingAndGlyphs">Unknown System: Car echo path</text>
<text x="331.8" y="188" font-size="10.5px" textLength="13" lengthAdjust="spacingAndGlyphs">(<tspan font-style="italic">M</tspan></text>
<text x="350.6" y="188" font-size="10.5px" textLength="6.6" lengthAdjust="spacingAndGlyphs" stroke="none" fill="#555">=</text>
<text x="361" y="188" font-size="10.5px" textLength="19.3" lengthAdjust="spacingAndGlyphs">256)</text>
</g>
<rect x="237.7" y="10.5" width="223.1" height="104.4" fill="#fff" stroke="#000" stroke-width="1"/>
<g font-family="Liberation Serif, serif" font-size="13.5px" fill="#000" stroke="#000" stroke-width="0.25">
<line x1="244.7" y1="19.0" x2="283.3" y2="19.0" stroke="#0000ff" stroke-width="2.6"/>
<text x="287.8" y="22.5" textLength="53.7" lengthAdjust="spacingAndGlyphs">(a) NSAF</text>
<line x1="244.7" y1="33.6" x2="283.3" y2="33.6" stroke="#ff0000" stroke-width="2.6"/>
<text x="287.8" y="37.1" textLength="74.6" lengthAdjust="spacingAndGlyphs">(b) DS-NSAF</text>
<line x1="244.7" y1="48.1" x2="283.3" y2="48.1" stroke="#ffff00" stroke-width="2.6"/>
<text x="287.8" y="51.6" textLength="72.2" lengthAdjust="spacingAndGlyphs">(c) FS-NSAF</text>
<line x1="244.7" y1="62.4" x2="283.3" y2="62.4" stroke="#00ff00" stroke-width="2.6"/>
<text x="287.8" y="65.9" textLength="163.4" lengthAdjust="spacingAndGlyphs">(d) SPU-NSAF, <tspan font-style="italic">B</tspan> = 4, <tspan font-style="italic">S</tspan> = 3</text>
<line x1="244.7" y1="76.8" x2="283.3" y2="76.8" stroke="#00ffff" stroke-width="2.6"/>
<text x="287.8" y="80.3" textLength="163.4" lengthAdjust="spacingAndGlyphs">(e) SPU-NSAF, <tspan font-style="italic">B</tspan> = 4, <tspan font-style="italic">S</tspan> = 2</text>
<line x1="244.7" y1="91.6" x2="283.3" y2="91.6" stroke="#000000" stroke-width="2.6"/>
<text x="287.8" y="95.1" textLength="129.0" lengthAdjust="spacingAndGlyphs">(f) Proposed SR-NSAF</text>
<line x1="244.7" y1="106.1" x2="283.3" y2="106.1" stroke="#ff00ff" stroke-width="2.6"/>
<text x="287.8" y="109.6" textLength="143.3" lengthAdjust="spacingAndGlyphs">(g) Proposed MSR-NSAF</text>
</g>
<line x1="130.1" y1="295.6" x2="149.2" y2="273.5" stroke="#000" stroke-width="3.0"/><polygon points="156.4,265.1 152.7,279.1 149.2,273.5 143.1,270.8" fill="#000"/>
<line x1="156.4" y1="301.5" x2="174.3" y2="281.8" stroke="#000" stroke-width="3.0"/><polygon points="181.7,273.6 177.7,287.5 174.3,281.8 168.3,279.0" fill="#000"/>
<line x1="215.4" y1="313.6" x2="238.6" y2="285.5" stroke="#000" stroke-width="3.0"/><polygon points="245.6,277.0 242.2,291.1 238.6,285.5 232.4,283.0" fill="#000"/>
<line x1="233.0" y1="237.7" x2="218.7" y2="270.4" stroke="#000" stroke-width="3.0"/><polygon points="214.3,280.5 213.7,266.0 218.7,270.4 225.3,271.1" fill="#000"/>
<line x1="290.0" y1="237.7" x2="275.9" y2="275.6" stroke="#000" stroke-width="3.0"/><polygon points="272.0,286.0 270.6,271.6 275.9,275.6 282.5,276.0" fill="#000"/>
<line x1="338.0" y1="250.4" x2="327.6" y2="276.7" stroke="#000" stroke-width="3.0"/><polygon points="323.6,287.0 322.5,272.6 327.6,276.7 334.3,277.2" fill="#000"/>
<line x1="366.4" y1="247.6" x2="357.8" y2="273.1" stroke="#000" stroke-width="3.0"/><polygon points="354.3,283.6 352.4,269.3 357.8,273.1 364.5,273.3" fill="#000"/>
<g font-family="Liberation Serif, serif" font-size="13.5px" fill="#000" stroke="#000" stroke-width="0.25" text-anchor="middle">
<text x="121.3" y="305.0">(b)</text>
<text x="148.2" y="311.2">(a)</text>
<text x="207.1" y="324.2">(c)</text>
<text x="233.0" y="233.5">(d)</text>
<text x="290.0" y="234.0">(g)</text>
<text x="338.5" y="245.8">(f)</text>
<text x="366.7" y="244.0">(e)</text>
</g>
</svg>
</body></html>
